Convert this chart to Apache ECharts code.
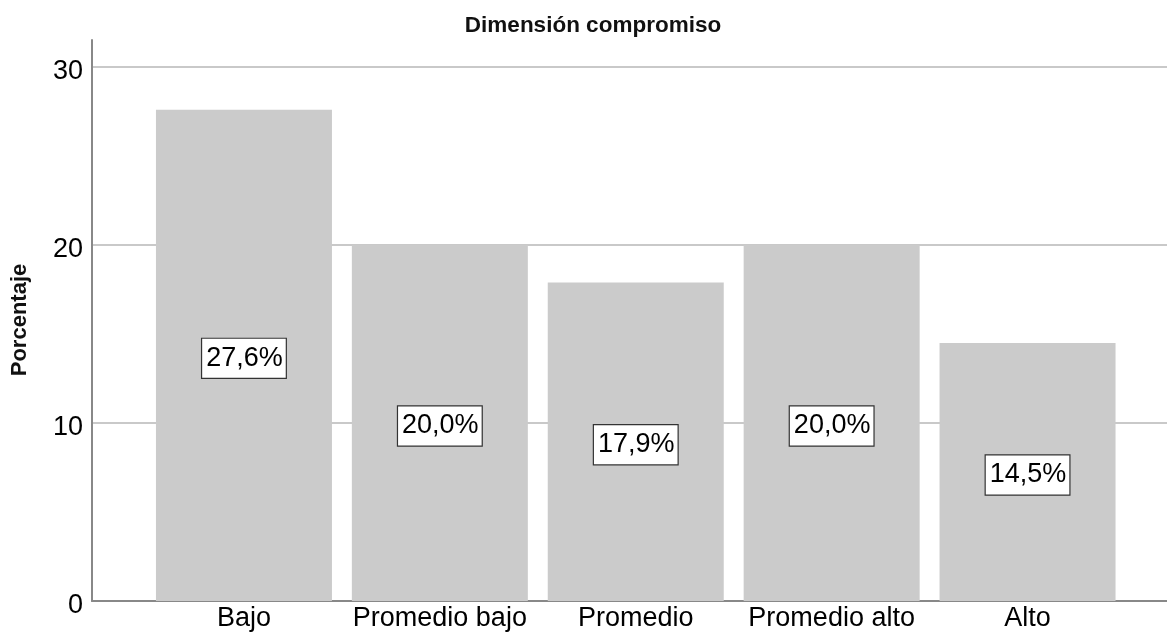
<!DOCTYPE html>
<html>
<head>
<meta charset="utf-8">
<script src="https://cdn.jsdelivr.net/npm/echarts@6/dist/echarts.min.js"></script>
<style>html,body{margin:0;padding:0;background:#fff}#c{width:1167px;height:641px}</style>
</head>
<body>
<div id="c"></div>
<script>
const categories = ['Bajo', 'Promedio bajo', 'Promedio', 'Promedio alto', 'Alto'];
const values = [27.6, 20.0, 17.9, 20.0, 14.5];
const yTicks = [0, 10, 20, 30];
const titleText = 'Dimensión compromiso';
const yName = 'Porcentaje';

const FONT = '"Liberation Sans", Arial, sans-serif';
const chart = echarts.init(document.getElementById('c'), null, {renderer: 'canvas'});
chart.setOption({
  animation: false,
  backgroundColor: '#fff',
  title: {
    text: titleText, left: 588, top: 9, textAlign: 'center',
    textStyle: {fontFamily: FONT, fontSize: 22.5, fontWeight: 'bold', color: '#111'}
  },
  graphic: [{
    type: 'text', x: 20, y: 320, rotation: Math.PI / 2,
    style: {text: yName, font: 'bold 22px ' + FONT, fill: '#111', textAlign: 'center', textVerticalAlign: 'middle'}
  }],
  grid: [
    {left: 92, right: 0, top: 67, bottom: 40},
    {left: 92, right: 0, top: 40, bottom: 40},
    {left: 146, right: 41.5, top: 67, bottom: 40}
  ],
  xAxis: [
    {gridIndex: 0, type: 'value', min: 0, max: 1, show: true, axisLabel: {show: false}, axisTick: {show: false}, splitLine: {show: false},
     axisLine: {show: true, lineStyle: {color: '#888', width: 2}}},
    {gridIndex: 1, type: 'value', min: 0, max: 1, show: false},
    {gridIndex: 2, type: 'category', data: categories, axisLine: {show: false}, axisTick: {show: false},
     axisLabel: {fontFamily: FONT, fontSize: 27, color: '#000', margin: 4, interval: 0}}
  ],
  yAxis: [
    {gridIndex: 0, type: 'value', min: yTicks[0], max: yTicks[yTicks.length - 1], interval: 10,
     axisLine: {show: false}, axisTick: {show: false},
     axisLabel: {
       margin: 9,
       formatter: v => '{a|' + v + '}',
       rich: {a: {fontFamily: FONT, fontSize: 27, color: '#000', lineHeight: 27, padding: [10, 0, 0, 0]}}
     },
     splitLine: {show: true, lineStyle: {color: '#c9c9c9', width: 2}}},
    {gridIndex: 1, type: 'value', min: 0, max: 1, axisLabel: {show: false}, axisTick: {show: false}, splitLine: {show: false},
     axisLine: {show: true, lineStyle: {color: '#888', width: 2}}},
    {gridIndex: 2, type: 'value', min: yTicks[0], max: yTicks[yTicks.length - 1], show: false}
  ],
  series: [{
    type: 'bar', xAxisIndex: 2, yAxisIndex: 2, data: values, barWidth: 176,
    itemStyle: {color: '#cbcbcb'},
    label: {
      show: true, position: 'inside', offset: [0, 3],
      formatter: p => p.value.toFixed(1).replace('.', ',') + '%',
      fontFamily: FONT, fontSize: 27, color: '#000', lineHeight: 27,
      backgroundColor: '#fff', borderColor: '#333', borderWidth: 1.2,
      padding: [7, 3, 5, 4]
    }
  }]
});
</script>
</body>
</html>
